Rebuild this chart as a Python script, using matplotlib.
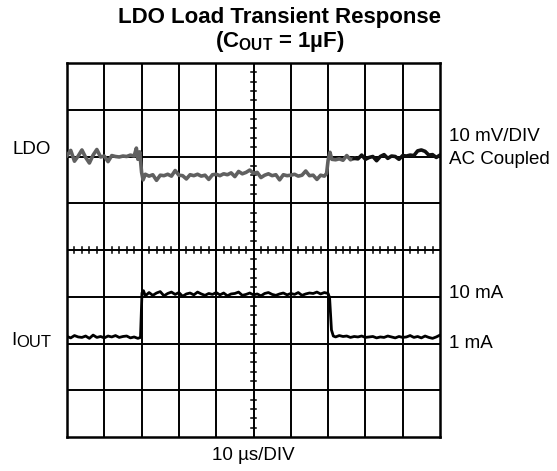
import numpy as np
import matplotlib
matplotlib.use("Agg")
import matplotlib.pyplot as plt

plt.rcParams['font.family'] = ['Liberation Sans', 'DejaVu Sans']
plt.rcParams['mathtext.fontset'] = 'custom'
plt.rcParams['mathtext.rm'] = 'Liberation Sans'
plt.rcParams['mathtext.bf'] = 'Liberation Sans:bold'

# LDO output, AC coupled, mV on screen (10 mV/DIV), time in us (10 us/DIV)
ldo_t = [0, 1, 2, 3, 4, 5, 6, 7, 8, 9, 10, 11, 12, 13, 14, 15, 16, 17, 18, 18.6, 19, 19.5,
         20, 20.4, 21, 22, 23, 24, 25, 26, 27, 28, 29, 30, 31, 32, 33, 34, 35, 36, 37, 38, 39,
         40, 41, 42, 43, 44, 45, 46, 47, 48, 49, 50, 51, 52, 53, 54, 55, 56, 57, 58, 59, 60,
         61, 62, 63, 64, 65, 66, 67, 68, 69, 69.6, 70, 70.5, 71, 72, 73, 74, 75, 76, 77]
ldo_mv = [20.2, 21.3, 19.0, 20.1, 21.4, 19.8, 18.6, 20.3, 21.5, 19.9, 20.1, 18.9, 20.2, 20.0,
          19.9, 20.1, 20.0, 20.3, 20.1, 21.8, 19.4, 21.0,
          16.6, 15.0, 16.2, 15.8, 16.1, 14.9, 16.0, 15.9, 16.2, 15.8, 17.0, 16.0, 15.9, 15.2,
          16.1, 15.9, 16.2, 15.8, 16.0, 15.1, 16.1, 16.2, 15.9, 16.3, 16.1, 16.5, 15.7, 16.8,
          16.3, 16.6, 17.1, 16.4, 16.6, 15.5, 16.0, 16.3, 15.9, 16.1, 15.0, 16.1, 15.9, 16.0,
          16.2, 15.8, 16.0, 16.9, 15.9, 16.0, 15.1, 16.0, 15.8, 16.4,
          19.2, 20.9, 19.4, 19.3, 19.5, 19.2, 20.2, 19.3, 19.6]
ldo_t2 = [77, 78, 79, 80, 81, 82, 83, 84, 85, 86, 87, 88, 89, 90, 91, 92, 93, 94, 95, 96,
          97, 98, 99, 100]
ldo_mv2 = [19.6, 19.5, 20.3, 19.4, 19.8, 20.0, 19.1, 20.0, 20.4, 19.6, 20.1, 20.0, 19.4,
           20.2, 20.1, 20.3, 20.2, 21.2, 21.4, 21.1, 20.3, 20.4, 19.8, 20.3]

# Load current, mA (screen: 10 mA/DIV)
iout_t = [0, 1, 2, 3, 4, 5, 6, 7, 8, 9, 10, 11, 12, 13, 14, 15, 16, 17, 18, 19, 19.7,
          20.1, 20.5, 21, 22, 23, 24, 25, 26, 27, 28, 29, 30, 31, 32, 33, 34, 35, 36, 37,
          38, 39, 40, 41, 42, 43, 44, 45, 46, 47, 48, 49, 50, 51, 52, 53, 54, 55, 56, 57,
          58, 59, 60, 61, 62, 63, 64, 65, 66, 67, 68, 69, 70, 70.4, 70.9, 71.4, 72, 73, 74,
          75, 76, 77, 78, 79, 80, 81, 82, 83, 84, 85, 86, 87, 88, 89, 90, 91, 92, 93, 94,
          95, 96, 97, 98, 99, 100]
iout_ma = [1.1, 0.8, 1.3, 1.0, 0.9, 1.2, 0.7, 1.4, 0.9, 1.1, 0.8, 1.2, 1.0, 1.3, 0.9, 1.1,
           1.2, 0.8, 1.0, 0.7, 0.9,
           10.4, 10.9, 9.8, 10.5, 9.9, 10.4, 10.7, 9.8, 10.3, 10.6, 10.1, 10.5, 9.7, 10.2,
           10.4, 10.0, 10.6, 10.2, 9.9, 10.3, 10.1, 10.5, 10.0, 10.4, 9.8, 10.2, 10.3, 10.6,
           9.9, 10.1, 10.4, 10.0, 10.2, 9.8, 10.3, 10.5, 10.1, 9.9, 10.2, 10.4, 10.0, 10.3,
           10.1, 10.5, 9.9, 10.2, 10.4, 10.3, 10.6, 10.2, 10.5, 10.3, 9.4, 2.5, 1.2,
           1.0, 1.3, 1.1, 1.2, 0.9, 1.1, 1.0, 1.2, 0.9, 1.0, 1.1, 0.8, 1.0, 0.9, 1.2, 1.0,
           0.8, 1.1, 0.9, 1.0, 1.3, 0.9, 1.1, 0.8, 1.2, 0.9, 0.7, 1.0, 1.4]

fig = plt.figure(figsize=(5.57, 4.71), dpi=100)
ax = fig.add_axes([67 / 557, 1 - 437 / 471, 373 / 557, 374 / 471])
ax.set_xlim(0, 10)
ax.set_ylim(-4, 4)

# graticule
for gx in range(1, 10):
    ax.axvline(gx, color='black', lw=1.4, zorder=1)
for gy in range(-3, 4):
    ax.axhline(gy, color='black', lw=1.4, zorder=1)
for s in ax.spines.values():
    s.set_linewidth(1.8)
ax.set_xticks([])
ax.set_yticks([])

# minor ticks on the center lines
minor = [v / 5 for v in range(-20, 21) if v % 5 != 0]
for v in minor:
    ax.plot([5 - 0.08, 5 + 0.08], [v, v], color='black', lw=1.1, zorder=1)
for v in [u / 5 for u in range(1, 50) if u % 5 != 0]:
    ax.plot([v, v], [-0.07, 0.07], color='black', lw=1.1, zorder=1)

# traces (screen divisions)
ax.plot(np.array(ldo_t) / 10, np.array(ldo_mv) / 10, color='#606060', lw=2.6, zorder=3)
ax.plot(np.array(ldo_t2) / 10, np.array(ldo_mv2) / 10, color='#111111', lw=2.6, zorder=3)
ax.plot(np.array(iout_t) / 10, np.array(iout_ma) / 10 - 1.96, color='black', lw=2.0, zorder=3)

# texts
fig.text(280 / 557, 1 - 18 / 471, 'LDO Load Transient Response', ha='center', va='center',
         fontsize=16, fontweight='bold')
fig.text(280 / 557, 1 - 42 / 471, r'(C$_{\mathbf{OUT}}$ = 1µF)', ha='center', va='center',
         fontsize=16, fontweight='bold')
fig.text(12 / 557, 1 - 150 / 471, 'LDO', ha='left', va='center', fontsize=13.5)
fig.text(11 / 557, 1 - 345 / 471, 'I', ha='left', va='baseline', fontsize=13.5)
fig.text(16 / 557, 1 - 347 / 471, 'OUT', ha='left', va='baseline', fontsize=12)
fig.text(449 / 557, 1 - 137 / 471, '10 mV/DIV', ha='left', va='center', fontsize=13.5)
fig.text(449 / 557, 1 - 160 / 471, 'AC Coupled', ha='left', va='center', fontsize=13.5)
fig.text(449 / 557, 1 - 294 / 471, '10 mA', ha='left', va='center', fontsize=13.5)
fig.text(449 / 557, 1 - 344 / 471, '1 mA', ha='left', va='center', fontsize=13.5)
fig.text(253 / 557, 1 - 455 / 471, '10 µs/DIV', ha='center', va='center', fontsize=13.5)

fig.savefig('out.png', dpi=100)
